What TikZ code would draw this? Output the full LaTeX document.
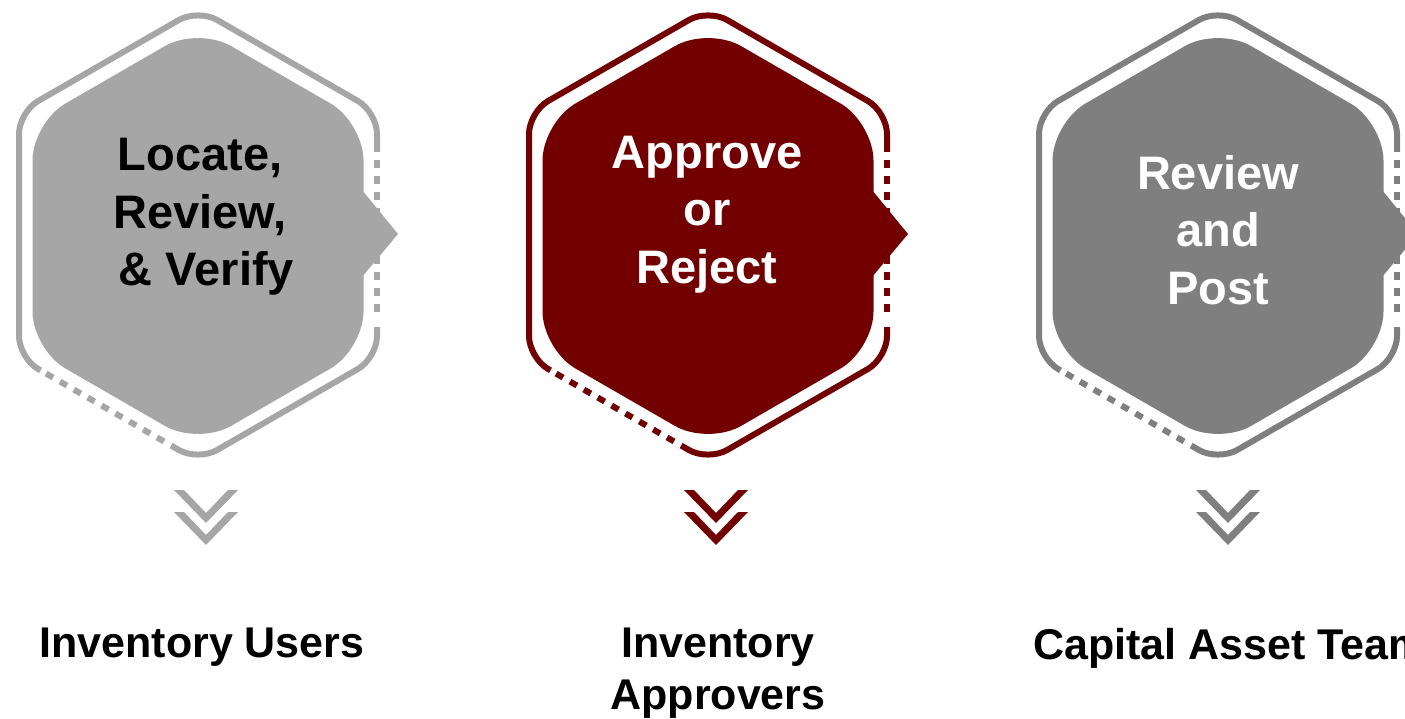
\documentclass[tikz,border=0pt]{standalone}
\usepackage{fontspec}
\setmainfont{Liberation Sans}
\usetikzlibrary{positioning, calc}
\definecolor{step-light}{RGB}{166,166,166}
\definecolor{step-red}{RGB}{114,0,0}
\definecolor{step-dark}{RGB}{127,127,127}

\begin{document}
\begin{tikzpicture}[
    x=1pt, y=-1pt,
    ring/.style={line width=6pt, rounded corners=22pt},
    ringdash/.style={line width=6pt, dash pattern=on 8pt off 8pt},
    hexfill/.style={rounded corners=38pt},
    steptext/.style={font=\bfseries\fontsize{47}{57.5}\selectfont, align=center, inner sep=0pt},
    team/.style={font=\bfseries\fontsize{43}{52}\selectfont, align=center, inner sep=0pt, anchor=north}
]
\useasboundingbox (0,0) rectangle (1405,719);
\clip (0,0) rectangle (1405,719);

% hexagons with arrow tip and chevrons
\foreach \cx/\col/\dx in {198/step-light/8, 708/step-red/8, 1218/step-dark/10} {
  \draw[ring, \col] (\cx+179,327) -- (\cx+179,358) -- (\cx,461) -- ($(\cx,461)!0.15!(\cx-179,358)$);
  \draw[ringdash, \col] ($(\cx,461)!0.19!(\cx-179,358)$) -- ($(\cx,461)!0.85!(\cx-179,358)$);
  \draw[ring, \col] ($(\cx,461)!0.88!(\cx-179,358)$) -- (\cx-179,358) -- (\cx-179,112) -- (\cx,9) -- (\cx+179,112) -- (\cx+179,152);
  \draw[ringdash, \col] (\cx+179,160) -- (\cx+179,318);
  \fill[hexfill, \col] (\cx-165.5,236) -- (\cx-165.5,122.5) -- (\cx,27) -- (\cx+165.5,122.5) -- (\cx+165.5,349.5) -- (\cx,445) -- (\cx-165.5,349.5) -- cycle;
  \fill[\col] (\cx+164,190) -- (\cx+200,234) -- (\cx+164,277) -- cycle;
  \foreach \cy in {490,512}
    \fill[\col] (\cx+\dx-32,\cy) -- (\cx+\dx,\cy+33) -- (\cx+\dx+32,\cy) -- (\cx+\dx+22,\cy) -- (\cx+\dx,\cy+23) -- (\cx+\dx-22,\cy) -- cycle;
}

\node[steptext] (locate) at (200,217) {Locate,\\Review,\\\hspace*{13pt}\& Verify};
\node[steptext, text=white] (approve) at (707,214.5) {Approve\\or\\Reject};
\node[steptext, text=white] (post) at (1218,230) {Review\\and\\Post};

\node[team] (users) at (202,628) {Inventory Users};
\node[team] (approvers) at (718,628) {Inventory\\Approvers};
\node[team, anchor=north west] (capital) at (1033,628) {Capital Asset Team};

\end{tikzpicture}
\end{document}
